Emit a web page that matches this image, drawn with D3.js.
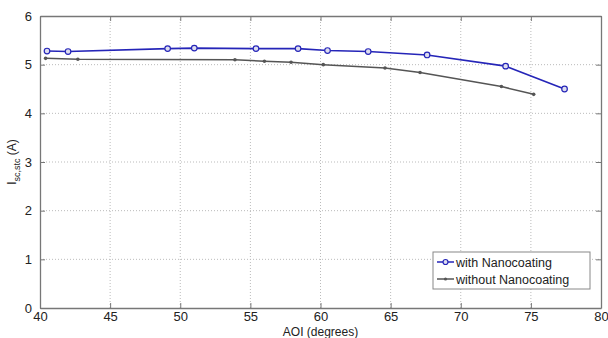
<!DOCTYPE html>
<html>
<head>
<meta charset="utf-8">
<script src="https://cdn.jsdelivr.net/npm/d3@7"></script>
<style>
  body { margin: 0; background: #fff; }
  svg { display: block; font-family: "Liberation Sans", Arial, sans-serif; }
</style>
</head>
<body>
<div id="chart"></div>
<script>
// values
var withAoi = [40.5, 42.0, 49.1, 51.0, 55.4, 58.4, 60.5, 63.4, 67.6, 73.2, 77.4];
var withIsc = [5.28, 5.27, 5.33, 5.34, 5.33, 5.33, 5.29, 5.27, 5.20, 4.97, 4.50];
var withoutAoi = [40.4, 42.7, 53.9, 56.0, 57.9, 60.2, 64.6, 67.1, 72.9, 75.2];
var withoutIsc = [5.13, 5.11, 5.10, 5.07, 5.05, 5.00, 4.93, 4.84, 4.55, 4.39];
var xTicks = [40, 45, 50, 55, 60, 65, 70, 75, 80];
var yTicks = [0, 1, 2, 3, 4, 5, 6];
var seriesNames = ["with Nanocoating", "without Nanocoating"];

var width = 608, height = 338;
var margin = { top: 16, right: 7, bottom: 30, left: 40 };

var svg = d3.select("#chart").append("svg")
  .attr("width", width)
  .attr("height", height);

var x = d3.scaleLinear().domain([40, 80]).range([margin.left, width - margin.right]);
var y = d3.scaleLinear().domain([0, 6]).range([height - margin.bottom, margin.top]);

// dotted grid
svg.append("g").selectAll("line").data(xTicks.slice(1, -1)).enter().append("line")
  .attr("x1", d => x(d)).attr("x2", d => x(d))
  .attr("y1", y(0)).attr("y2", y(6))
  .attr("stroke", "#bbb").attr("stroke-width", 1).attr("stroke-dasharray", "1,2");
svg.append("g").selectAll("line").data(yTicks.slice(1, -1)).enter().append("line")
  .attr("x1", x(40)).attr("x2", x(80))
  .attr("y1", d => y(d)).attr("y2", d => y(d))
  .attr("stroke", "#bbb").attr("stroke-width", 1).attr("stroke-dasharray", "1,2");

// axes, ticks point inward like matlab
var axisColor = "#777";
function styleAxis(g) {
  g.select(".domain").attr("stroke", axisColor).attr("stroke-width", 1.3);
  g.selectAll(".tick line").attr("stroke", axisColor);
  g.selectAll(".tick text").attr("fill", "#222").attr("font-size", 13);
}
svg.append("g")
  .attr("transform", "translate(0," + y(0) + ")")
  .call(d3.axisBottom(x).tickValues(xTicks).tickSizeInner(-5).tickSizeOuter(0).tickPadding(4))
  .call(styleAxis);
svg.append("g")
  .attr("transform", "translate(" + x(40) + ",0)")
  .call(d3.axisLeft(y).tickValues(yTicks).tickFormat(d3.format("d"))
    .tickSizeInner(-5).tickSizeOuter(0).tickPadding(8))
  .call(styleAxis);
svg.append("g")
  .attr("transform", "translate(0," + y(6) + ")")
  .call(d3.axisTop(x).tickValues(xTicks).tickSizeInner(-5).tickSizeOuter(0).tickFormat(""))
  .call(styleAxis);
svg.append("g")
  .attr("transform", "translate(" + x(80) + ",0)")
  .call(d3.axisRight(y).tickValues(yTicks).tickSizeInner(-5).tickSizeOuter(0).tickFormat(""))
  .call(styleAxis);

// axis titles
svg.append("text")
  .attr("x", (x(40) + x(80)) / 2).attr("y", height - 2)
  .attr("text-anchor", "middle").attr("font-size", 12).attr("fill", "#222")
  .text("AOI (degrees)");
var yl = svg.append("text")
  .attr("transform", "translate(16," + y(3) + ") rotate(-90)")
  .attr("text-anchor", "middle").attr("font-size", 12).attr("fill", "#222");
yl.append("tspan").text("I");
yl.append("tspan").attr("font-size", 9).attr("dy", 4).text("sc,stc");
yl.append("tspan").attr("dy", -4).text(" (A)");

var line = d3.line().x(d => x(d[0])).y(d => y(d[1]));
var blue = "#2525b8", grey = "#555";
var withPts = withAoi.map((a, i) => [a, withIsc[i]]);
var withoutPts = withoutAoi.map((a, i) => [a, withoutIsc[i]]);

svg.append("path").datum(withoutPts).attr("d", line)
  .attr("fill", "none").attr("stroke", grey).attr("stroke-width", 1.5);
svg.append("g").selectAll("circle").data(withoutPts).enter().append("circle")
  .attr("cx", d => x(d[0])).attr("cy", d => y(d[1])).attr("r", 1.8)
  .attr("fill", grey);

svg.append("path").datum(withPts).attr("d", line)
  .attr("fill", "none").attr("stroke", blue).attr("stroke-width", 1.6);
svg.append("g").selectAll("circle").data(withPts).enter().append("circle")
  .attr("cx", d => x(d[0])).attr("cy", d => y(d[1])).attr("r", 2.8)
  .attr("fill", "#dde").attr("stroke", blue).attr("stroke-width", 1.2);

// legend
var lg = svg.append("g").attr("transform", "translate(433,252)");
lg.append("rect").attr("width", 157).attr("height", 37)
  .attr("fill", "#fff").attr("stroke", "#888").attr("stroke-width", 1);
seriesNames.forEach(function (name, i) {
  var cy = 10 + i * 17;
  var c = i === 0 ? blue : grey;
  lg.append("line").attr("x1", 4).attr("x2", 21).attr("y1", cy).attr("y2", cy)
    .attr("stroke", c).attr("stroke-width", 1.5);
  if (i === 0) {
    lg.append("circle").attr("cx", 12.5).attr("cy", cy).attr("r", 2.5)
      .attr("fill", "#dde").attr("stroke", blue).attr("stroke-width", 1.2);
  } else {
    lg.append("circle").attr("cx", 12.5).attr("cy", cy).attr("r", 1.6).attr("fill", grey);
  }
  lg.append("text").attr("x", 23).attr("y", cy + 4.5)
    .attr("font-size", 12.5).attr("fill", "#222").text(name);
});
</script>
</body>
</html>
